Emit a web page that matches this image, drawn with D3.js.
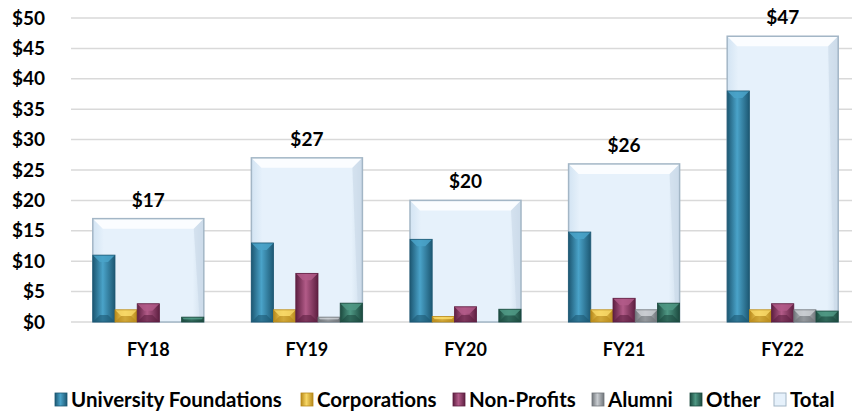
<!DOCTYPE html>
<html>
<head>
<meta charset="utf-8">
<script src="https://cdnjs.cloudflare.com/ajax/libs/d3/7.8.5/d3.min.js"></script>
<style>
  body { margin: 0; background: #fff; }
  svg { display: block; font-family: Lato, "Open Sans", sans-serif; font-weight: bold; }
</style>
</head>
<body>
<svg id="chart" width="852" height="414"></svg>
<script>
// chart data, in $ millions
const years = ["FY18", "FY19", "FY20", "FY21", "FY22"];
const series = ["University Foundations", "Corporations", "Non-Profits", "Alumni", "Other"];
const universityFoundations = [11, 13, 13.6, 14.8, 38];
const corporations = [2, 2, 0.9, 2, 2];
const nonProfits = [3, 8, 2.5, 3.9, 3];
const alumni = [0, 0.8, 0, 2, 2];
const other = [0.8, 3.1, 2.1, 3.1, 1.8];
const totals = [17, 27, 20, 26, 47];
const yTicks = [0, 5, 10, 15, 20, 25, 30, 35, 40, 45, 50];

const seriesValues = [universityFoundations, corporations, nonProfits, alumni, other];
const palette = [
  {base: "#2b7ca3", light: "#4aa3c9", dark: "#1d5873"},
  {base: "#e6b632", light: "#f7d766", dark: "#b8891a"},
  {base: "#8c3463", light: "#b25b88", dark: "#5e1f41"},
  {base: "#9ea3a8", light: "#c9cdd1", dark: "#70757a"},
  {base: "#2d6f5f", light: "#4f9884", dark: "#1c4a3f"}
];

const svg = d3.select("#chart");
const margin = {top: 18, left: 69, bottom: 92};
const height = 414;
const plotBottom = height - margin.bottom;

const x = d3.scaleBand().domain(years).range([margin.left, 862]).paddingInner(0.3).paddingOuter(0.15);
const y = d3.scaleLinear().domain([0, 50]).range([plotBottom, margin.top]);
const xInner = d3.scaleBand().domain(series).range([0, x.bandwidth()]);

const defs = svg.append("defs");
palette.forEach((c, i) => {
  const g = defs.append("linearGradient").attr("id", "grad" + i).attr("x1", 0).attr("x2", 1).attr("y1", 0).attr("y2", 0);
  g.append("stop").attr("offset", "0%").attr("stop-color", c.dark);
  g.append("stop").attr("offset", "45%").attr("stop-color", c.light);
  g.append("stop").attr("offset", "100%").attr("stop-color", c.dark);
});
const tg = defs.append("linearGradient").attr("id", "gradTotal").attr("x1", 0).attr("x2", 1).attr("y1", 0).attr("y2", 0);
tg.append("stop").attr("offset", "0%").attr("stop-color", "#d3e4f3");
tg.append("stop").attr("offset", "10%").attr("stop-color", "#e6f1fb");
tg.append("stop").attr("offset", "90%").attr("stop-color", "#e6f1fb");
tg.append("stop").attr("offset", "100%").attr("stop-color", "#cfdeec");

// gridlines
svg.append("g")
  .selectAll("line")
  .data(yTicks)
  .join("line")
  .attr("x1", margin.left + 2)
  .attr("x2", 852)
  .attr("y1", d => y(d))
  .attr("y2", d => y(d))
  .attr("stroke", "#d9d9d9")
  .attr("stroke-width", 1.5);

// y axis labels
svg.append("g")
  .selectAll("text")
  .data(yTicks)
  .join("text")
  .attr("x", 45)
  .attr("y", d => y(d))
  .attr("dy", "0.35em")
  .attr("text-anchor", "end")
  .attr("font-size", 19)
  .attr("fill", "#000")
  .text(d => "$" + d);

// total bars behind
const totalG = svg.append("g");
years.forEach((yr, i) => {
  const x0 = x(yr), w = x.bandwidth(), y0 = y(totals[i]), h = plotBottom - y0;
  const b = 10;
  totalG.append("rect")
    .attr("x", x0).attr("y", y0).attr("width", w).attr("height", h)
    .attr("fill", "url(#gradTotal)");
  totalG.append("polygon")
    .attr("points", [[x0, y0], [x0 + w, y0], [x0 + w - b, y0 + b], [x0 + b, y0 + b]].join(" "))
    .attr("fill", "#fbfdff");
  totalG.append("polygon")
    .attr("points", [[x0 + w, y0], [x0 + w, y0 + h], [x0 + w - 4, y0 + h], [x0 + w - b, y0 + b]].join(" "))
    .attr("fill", "#c9d9e8").attr("opacity", 0.6);
  totalG.append("rect")
    .attr("x", x0).attr("y", y0).attr("width", w).attr("height", h)
    .attr("fill", "none").attr("stroke", "#a3b6c6").attr("stroke-width", 1.5);
});

// series bars with a bevel
function bevelBar(g, bx, by, bw, bh, c, gi) {
  if (bh <= 0) return;
  const b = Math.min(7, bh / 2, bw / 2);
  g.append("rect").attr("x", bx).attr("y", by).attr("width", bw).attr("height", bh)
    .attr("fill", "url(#grad" + gi + ")");
  g.append("polygon")
    .attr("points", [[bx, by], [bx + bw, by], [bx + bw - b, by + b], [bx + b, by + b]].join(" "))
    .attr("fill", c.light).attr("opacity", 0.85);
  g.append("polygon")
    .attr("points", [[bx, by + bh], [bx + bw, by + bh], [bx + bw - b, by + bh - b], [bx + b, by + bh - b]].join(" "))
    .attr("fill", c.dark).attr("opacity", 0.6);
  g.append("rect").attr("x", bx).attr("y", by).attr("width", bw).attr("height", bh)
    .attr("fill", "none").attr("stroke", c.dark).attr("stroke-width", 0.8);
}

const barsG = svg.append("g");
years.forEach((yr, i) => {
  series.forEach((s, j) => {
    const v = seriesValues[j][i];
    const bx = x(yr) + xInner(s);
    bevelBar(barsG, bx, y(v), xInner.bandwidth(), plotBottom - y(v), palette[j], j);
  });
});

// total labels
svg.append("g")
  .selectAll("text")
  .data(years)
  .join("text")
  .attr("x", d => x(d) + x.bandwidth() / 2)
  .attr("y", (d, i) => y(totals[i]) - 12)
  .attr("text-anchor", "middle")
  .attr("font-size", 19)
  .text((d, i) => "$" + totals[i]);

// category labels
svg.append("g")
  .selectAll("text")
  .data(years)
  .join("text")
  .attr("x", d => x(d) + x.bandwidth() / 2)
  .attr("y", 356)
  .attr("text-anchor", "middle")
  .attr("font-size", 18)
  .text(d => d);

// legend
const legendItems = series.concat(["Total"]);
const legendX = [55, 301, 453, 592, 690, 774];
const legend = svg.append("g");
legendItems.forEach((name, i) => {
  const lx = legendX[i], ly = 393;
  if (i < 5) {
    legend.append("rect").attr("x", lx).attr("y", ly).attr("width", 12).attr("height", 13)
      .attr("fill", "url(#grad" + i + ")").attr("stroke", palette[i].dark).attr("stroke-width", 0.8);
  } else {
    legend.append("rect").attr("x", lx).attr("y", ly).attr("width", 12).attr("height", 13)
      .attr("fill", "#e6f1fb").attr("stroke", "#a3b6c6").attr("stroke-width", 1);
  }
  legend.append("text")
    .attr("x", lx + 16)
    .attr("y", ly + 6.5)
    .attr("dy", "0.35em")
    .attr("font-size", 20.5)
    .text(name);
});
</script>
</body>
</html>
